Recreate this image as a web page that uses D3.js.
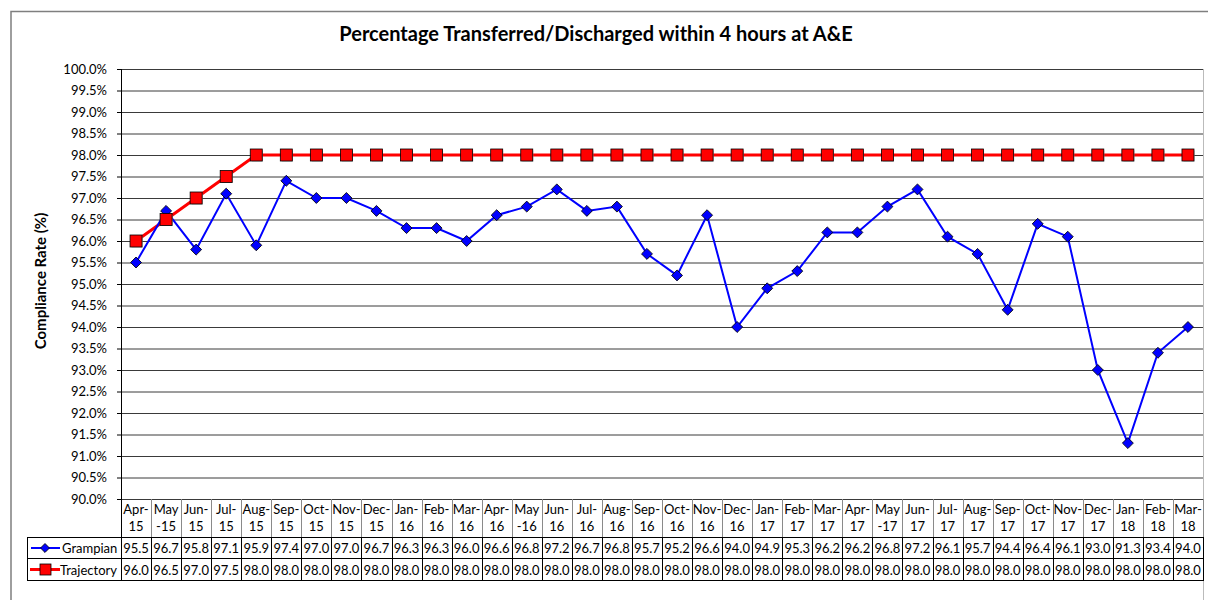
<!DOCTYPE html>
<html>
<head>
<meta charset="utf-8">
<script src="https://cdn.jsdelivr.net/npm/d3@7"></script>
<style>
  body { margin: 0; background: #fff; }
  svg text { font-family: Lato, "Open Sans", sans-serif; fill: #000; }
</style>
</head>
<body>
<svg id="main"></svg>
<script>
// months along the x axis (as printed in the table header)
var months = ["Apr-15","May-15","Jun-15","Jul-15","Aug-15","Sep-15","Oct-15","Nov-15","Dec-15",
  "Jan-16","Feb-16","Mar-16","Apr-16","May-16","Jun-16","Jul-16","Aug-16","Sep-16","Oct-16","Nov-16","Dec-16",
  "Jan-17","Feb-17","Mar-17","Apr-17","May-17","Jun-17","Jul-17","Aug-17","Sep-17","Oct-17","Nov-17","Dec-17",
  "Jan-18","Feb-18","Mar-18"];

var grampian = [95.5,96.7,95.8,97.1,95.9,97.4,97.0,97.0,96.7,96.3,96.3,96.0,96.6,96.8,97.2,96.7,96.8,95.7,
  95.2,96.6,94.0,94.9,95.3,96.2,96.2,96.8,97.2,96.1,95.7,94.4,96.4,96.1,93.0,91.3,93.4,94.0];

var trajectory = [96.0,96.5,97.0,97.5,98.0,98.0,98.0,98.0,98.0,98.0,98.0,98.0,98.0,98.0,98.0,98.0,98.0,98.0,
  98.0,98.0,98.0,98.0,98.0,98.0,98.0,98.0,98.0,98.0,98.0,98.0,98.0,98.0,98.0,98.0,98.0,98.0];

var yTicks = [90,90.5,91,91.5,92,92.5,93,93.5,94,94.5,95,95.5,96,96.5,97,97.5,98,98.5,99,99.5,100];

var chart = {
  width: 1208,
  height: 600,
  left: 121,
  right: 1203,
  top: 69,
  bottom: 499
}

var svg = d3.select("#main")
  .attr("width", chart.width)
  .attr("height", chart.height)

// outer frame
svg.append("path")
  .attr("d", "M11,600 V11.5 H1208")
  .attr("fill", "none")
  .attr("stroke", "#7f7f7f")
  .attr("stroke-width", 1.5)

svg.append("line")
  .attr("x1", chart.right + 0.5).attr("x2", chart.right + 0.5)
  .attr("y1", chart.top).attr("y2", 600)
  .attr("stroke", "#bbb")

svg.append("text")
  .attr("x", 596).attr("y", 41)
  .attr("text-anchor", "middle")
  .attr("font-size", 20)
  .attr("font-weight", "bold")
  .text("Percentage Transferred/Discharged within 4 hours at A&E")

var x = d3.scaleBand()
  .domain(months)
  .range([chart.left, chart.right])

var y = d3.scaleLinear()
  .domain([90, 100])
  .range([chart.bottom, chart.top])

// gridlines
svg.append("g")
  .attr("transform", "translate(" + chart.left + ",0)")
  .call(d3.axisLeft(y).tickValues(yTicks).tickSize(-(chart.right - chart.left)).tickFormat(""))
  .call(function(g) {
    g.select(".domain").remove()
    g.selectAll("line").attr("stroke", "#3a3a3a")
  })

// y axis with labels
svg.append("g")
  .attr("transform", "translate(" + chart.left + ",0)")
  .call(d3.axisLeft(y).tickValues(yTicks).tickSize(4).tickPadding(10)
    .tickFormat(function(d) { return d.toFixed(1) + "%" }))
  .call(function(g) {
    g.select(".domain").attr("stroke", "#000").attr("d", "M0.5," + chart.top + "V" + chart.bottom)
    g.selectAll("line").attr("stroke", "#000")
    g.selectAll("text").attr("font-size", 13).attr("font-family", "Lato, sans-serif")
  })

svg.append("text")
  .attr("transform", "translate(46,281) rotate(-90)")
  .attr("text-anchor", "middle")
  .attr("font-size", 15)
  .attr("font-weight", "bold")
  .text("Compliance Rate (%)")

// ---- data table under the axis ----
var headTop = chart.bottom, rowA = 537, rowB = 558, rowC = 580, tableLeft = 27;
var table = svg.append("g")

months.forEach(function(m, i) {
  var x0 = x(m), cx = x0 + x.bandwidth() / 2;
  var parts = m.indexOf("May") == 0 ? ["May", m.slice(3)] : [m.slice(0, 4), m.slice(4)];
  table.append("text").attr("x", cx).attr("y", 514).attr("text-anchor", "middle")
    .attr("font-size", 13).text(parts[0])
  table.append("text").attr("x", cx).attr("y", 531).attr("text-anchor", "middle")
    .attr("font-size", 13).text(parts[1])
  table.append("text").attr("x", cx).attr("y", 553).attr("text-anchor", "middle")
    .attr("font-size", 13).text(grampian[i].toFixed(1))
  table.append("text").attr("x", cx).attr("y", 575).attr("text-anchor", "middle")
    .attr("font-size", 13).text(trajectory[i].toFixed(1))
})

// header separators (grey), body separators (black)
months.concat(["end"]).forEach(function(m, i) {
  var xx = Math.round(chart.left + i * x.bandwidth()) + 0.5;
  table.append("line").attr("x1", xx).attr("x2", xx).attr("y1", headTop).attr("y2", rowA)
    .attr("stroke", i == 0 ? "#000" : "#8a8a8a")
  table.append("line").attr("x1", xx).attr("x2", xx).attr("y1", rowA).attr("y2", rowC)
    .attr("stroke", "#000")
})
;[rowA, rowB, rowC].forEach(function(yy) {
  table.append("line").attr("x1", tableLeft).attr("x2", chart.right + 1)
    .attr("y1", yy + 0.5).attr("y2", yy + 0.5).attr("stroke", "#000")
})
table.append("line").attr("x1", tableLeft + 0.5).attr("x2", tableLeft + 0.5)
  .attr("y1", rowA).attr("y2", rowC + 1).attr("stroke", "#000")

// legend keys inside the table
var keyA = (rowA + rowB) / 2 + 0.5, keyB = (rowB + rowC) / 2 + 0.5;
table.append("line").attr("x1", 31).attr("x2", 60).attr("y1", keyA).attr("y2", keyA)
  .attr("stroke", "#0000ff").attr("stroke-width", 2)
table.append("path").attr("d", d3.symbol(d3.symbolSquare, 40)())
  .attr("transform", "translate(45," + keyA + ") rotate(45)")
  .attr("fill", "#0000ff").attr("stroke", "#000").attr("stroke-width", 0.8)
table.append("text").attr("x", 62).attr("y", 553).attr("font-size", 13).text("Grampian")

table.append("line").attr("x1", 30).attr("x2", 60).attr("y1", keyB).attr("y2", keyB)
  .attr("stroke", "#ff0000").attr("stroke-width", 3)
table.append("rect").attr("x", 40).attr("y", keyB - 5.5).attr("width", 11).attr("height", 11)
  .attr("fill", "#ff0000").attr("stroke", "#000").attr("stroke-width", 0.8)
table.append("text").attr("x", 60).attr("y", 575).attr("font-size", 13).text("Trajectory")

// ---- series ----
function cx(i) { return x(months[i]) + x.bandwidth() / 2 }

var line = d3.line()
  .x(function(d, i) { return cx(i) })
  .y(function(d) { return y(d) })

svg.append("path").datum(trajectory)
  .attr("d", line).attr("fill", "none")
  .attr("stroke", "#ff0000").attr("stroke-width", 3)

svg.append("path").datum(grampian)
  .attr("d", line).attr("fill", "none")
  .attr("stroke", "#0000ff").attr("stroke-width", 2)

// grampian diamonds
svg.selectAll(".gp").data(grampian).enter().append("path")
  .attr("class", "gp")
  .attr("d", d3.symbol(d3.symbolSquare, 60)())
  .attr("transform", function(d, i) { return "translate(" + cx(i) + "," + y(d) + ") rotate(45)" })
  .attr("fill", "#0000ff").attr("stroke", "#000").attr("stroke-width", 0.8)

// trajectory squares with a faint shadow
svg.selectAll(".trs").data(trajectory).enter().append("rect")
  .attr("x", function(d, i) { return cx(i) - 4.5 })
  .attr("y", function(d) { return y(d) - 4.5 })
  .attr("width", 11).attr("height", 11)
  .attr("fill", "#b0b0b0")

svg.selectAll(".tr").data(trajectory).enter().append("rect")
  .attr("class", "tr")
  .attr("x", function(d, i) { return cx(i) - 6 })
  .attr("y", function(d) { return y(d) - 6 })
  .attr("width", 12).attr("height", 12)
  .attr("fill", "#ff0000").attr("stroke", "#000").attr("stroke-width", 0.8)
</script>
</body>
</html>
